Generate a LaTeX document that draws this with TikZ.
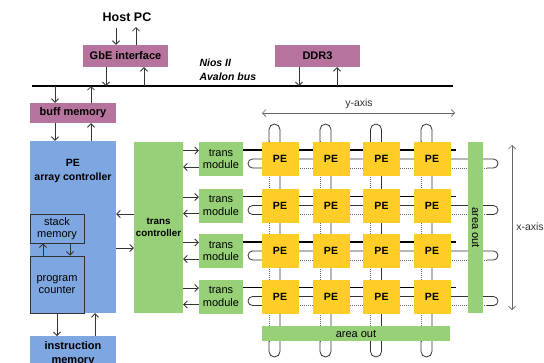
\documentclass[tikz,border=0pt]{standalone}
\usepackage{fontspec}
\setmainfont{Liberation Sans}
\usetikzlibrary{arrows.meta,calc}
\definecolor{pinkc}{HTML}{B5739D}
\definecolor{bluec}{HTML}{7EA6E0}
\definecolor{greenc}{HTML}{97D077}
\definecolor{yellowc}{HTML}{FFCD28}
\definecolor{darkl}{HTML}{333333}
\definecolor{grayl}{HTML}{666666}
\tikzset{
  boxbase/.style={inner sep=0pt, align=center},
  pinkbox/.style={boxbase, fill=pinkc, font=\bfseries\fontsize{11}{12}\selectfont},
  bluebox/.style={boxbase, fill=bluec, font=\bfseries\fontsize{11}{12}\selectfont},
  innerbox/.style={boxbase, fill=bluec, draw=darkl, line width=0.9pt, font=\fontsize{11}{12.5}\selectfont},
  greenbox/.style={boxbase, fill=greenc, font=\fontsize{11}{12.5}\selectfont},
  pebox/.style={boxbase, fill=yellowc, minimum width=37pt, minimum height=34pt, font=\bfseries\fontsize{10.5}{12}\selectfont},
  arr/.style={draw=darkl, line width=0.8pt, -{Straight Barb[length=3.5pt,width=7pt]}},
  axisarr/.style={draw=grayl, line width=0.7pt, {Straight Barb[length=3.5pt,width=7pt]}-{Straight Barb[length=3.5pt,width=7pt]}},
  thickl/.style={draw=black, line width=1.5pt},
  midl/.style={draw=darkl, line width=0.8pt},
  dotl/.style={draw=grayl, line width=0.6pt, dash pattern=on 1pt off 1pt},
  axlabel/.style={text=darkl, font=\fontsize{10.5}{12}\selectfont}
}
\begin{document}
\begin{tikzpicture}[x=1pt,y=-1pt]
\clip (0,0) rectangle (544,362);
\fill[white] (0,0) rectangle (544,362);

% ---------- PE grid wiring (behind boxes) ----------
\foreach \yc in {159,205.5,251,296.5} {
  \draw[thickl] (243,{\yc-9}) -- (456,{\yc-9});
  \draw[dotl] (262,{\yc+9}) -- (488,{\yc+9});
  \draw[midl] (262,\yc) -- (252.5,\yc) arc[start angle=90,end angle=270,radius=4.5pt] -- (262,{\yc+9});
  \draw[midl] (262,\yc) -- (493.5,\yc) arc[start angle=90,end angle=-90,radius=4.5pt] -- (487,{\yc+9});
}
\foreach \xc in {280,331,381.5,432} {
  \draw[dotl] ({\xc-11},141) -- ({\xc-11},342);
  \draw[midl] ({\xc-11},142) -- ({\xc-11},129.5) arc[start angle=180,end angle=0,radius=5.5pt]
     -- (\xc,351.5) arc[start angle=0,end angle=-180,radius=5.5pt] -- ({\xc-11},341);
}

% ---------- top part ----------
\node[font=\bfseries\fontsize{12.5}{14}\selectfont] (host) at (127,17) {Host PC};
\node[pinkbox, minimum width=85pt, minimum height=22pt] (gbe) at (125.5,56) {GbE interface};
\node[pinkbox, minimum width=85pt, minimum height=22pt] (ddr) at (317.5,56) {DDR3};
\coordinate (busL) at (32,86);
\coordinate (busR) at (453,86);
\draw[line width=2pt] (busL) -- (busR);
\node[anchor=west, align=left, font=\bfseries\itshape\fontsize{10.5}{14}\selectfont] (nios) at (196,70) {Nios II\\Avalon bus};
\node[pinkbox, minimum width=86pt, minimum height=20pt] (buff) at (73,113) {buff memory};

\draw[arr] (116,0 |- host.south) ++(0,3) -- (116,0 |- gbe.north);
\draw[arr] (136,0 |- gbe.north) -- (136,27);
\draw[arr] (106,0 |- gbe.south) -- (106,0 |- busL);
\draw[arr] (144,0 |- busL) -- (144,0 |- gbe.south);
\draw[arr] (299,0 |- ddr.south) -- (299,0 |- busL);
\draw[arr] (337,0 |- busL) -- (337,0 |- ddr.south);
\draw[arr] (55,0 |- busL) -- (55,0 |- buff.north);
\draw[arr] (91,0 |- buff.north) -- (91,0 |- busL);

% ---------- controller ----------
\node[bluebox, minimum width=86pt, minimum height=172pt] (pectrl) at (73,227) {};
\node[font=\bfseries\fontsize{10.5}{14}\selectfont, align=center, anchor=north] (pelabel) at ([yshift=-15pt]pectrl.north) {PE\\array controller};
\draw[arr] (55,0 |- buff.south) -- (55,0 |- pectrl.north);
\draw[arr] (91,0 |- pectrl.north) -- (91,0 |- buff.south);

\node[innerbox, minimum width=54pt, minimum height=29pt] (stack) at (57,228.5) {stack\\memory};
\node[innerbox, minimum width=54pt, minimum height=57pt] (pc) at (57,284.5) {program\\counter};
\draw[arr] (43,0 |- pc.north) -- (43,0 |- stack.south);
\draw[arr] (70,0 |- stack.south) -- (70,0 |- pc.north);

\node[bluebox, minimum width=86pt, minimum height=32pt, anchor=north] (imem) at (73,336) {};
\node[font=\bfseries\fontsize{11}{14}\selectfont, align=center, anchor=north] (imlabel) at ([yshift=-2pt]imem.north) {instruction\\memory};
\draw[arr] (57,0 |- pectrl.south) -- (57,0 |- imem.north);
\draw[arr] (95,0 |- imem.north) -- (95,0 |- pectrl.south);

% ---------- trans controller / modules ----------
\node[greenbox, font=\bfseries\fontsize{9.8}{12}\selectfont, minimum width=49pt, minimum height=171pt] (tc) at (158.5,227.5) {trans\\controller};
\draw[arr] (tc.west |- 0,214) -- (pectrl.east |- 0,214);
\draw[arr] (pectrl.east |- 0,248) -- (tc.west |- 0,248);

\foreach \yc [count=\i] in {159,205.5,251,296.5} {
  \node[greenbox, minimum width=44pt, minimum height=34pt] (tm\i) at (221,\yc) {trans\\module};
  \draw[arr] (tc.east |- 0,{\yc-8.5}) -- (tm\i.west |- 0,{\yc-8.5});
  \draw[arr] (tm\i.west |- 0,{\yc+8}) -- (tc.east |- 0,{\yc+8});
}

% ---------- PE boxes ----------
\foreach \yc [count=\r] in {159,205.5,251,296.5} {
  \foreach \xc [count=\c] in {280,331,381.5,432} {
    \node[pebox] (pe\r\c) at (\xc,\yc) {PE};
  }
}

% ---------- area out ----------
\node[greenbox, minimum width=15pt, minimum height=171pt] (aoV) at (475.5,227.5) {};
\node[rotate=-90, font=\fontsize{11}{12}\selectfont] (aoVt) at (aoV.center) {area out};
\node[greenbox, minimum width=188pt, minimum height=15pt] (aoH) at (356,333.5) {area out};

% ---------- axes ----------
\coordinate (yL) at (262,113);
\coordinate (yR) at (455,113);
\draw[axisarr] (yL) -- (yR);
\node[axlabel] (ylab) at (359,104) {y-axis};
\coordinate (xT) at (512,145);
\coordinate (xB) at (512,310);
\draw[axisarr] (xT) -- (xB);
\node[axlabel] (xlab) at (530,227) {x-axis};
\end{tikzpicture}
\end{document}
